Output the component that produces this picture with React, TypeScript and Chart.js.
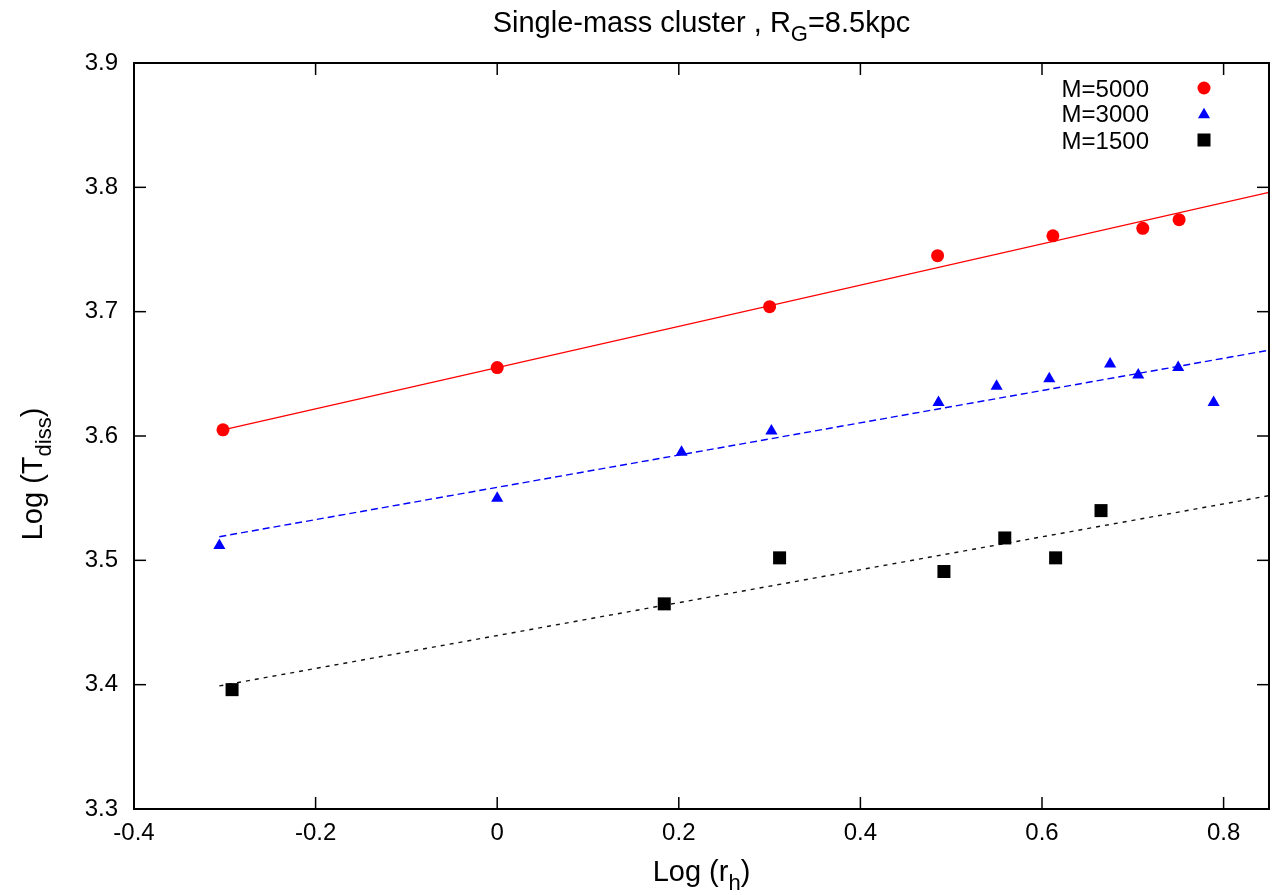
import React, { useEffect, useRef } from "react";
import { Chart, registerables } from "chart.js";

Chart.register(...registerables);

const FONT = '"Liberation Sans", Arial, Helvetica, sans-serif';

// Data
const m5000X = [-0.302, 0.0, 0.3, 0.485, 0.612, 0.711, 0.751];
const m5000Y = [3.605, 3.655, 3.704, 3.745, 3.761, 3.767, 3.774];
const m3000X = [-0.306, 0.0, 0.203, 0.302, 0.486, 0.55, 0.608, 0.675, 0.706, 0.75, 0.789];
const m3000Y = [3.512, 3.55, 3.587, 3.604, 3.627, 3.64, 3.646, 3.658, 3.649, 3.655, 3.627];
const m1500X = [-0.292, 0.184, 0.311, 0.492, 0.559, 0.615, 0.665];
const m1500Y = [3.396, 3.465, 3.502, 3.491, 3.518, 3.502, 3.54];

// Fit lines (endpoints)
const fit5000X = [-0.302, 0.85];
const fit5000Y = [3.605, 3.796];
const fit3000X = [-0.306, 0.85];
const fit3000Y = [3.519, 3.669];
const fit1500X = [-0.306, 0.85];
const fit1500Y = [3.399, 3.552];

const legendLabels = ["M=5000", "M=3000", "M=1500"];
const xTickStep = 0.2;
const yTickStep = 0.1;

const toPts = (xs: number[], ys: number[]) => xs.map((x, i) => ({ x, y: ys[i] }));

type Part = [string, boolean];

function drawParts(ctx: CanvasRenderingContext2D, parts: Part[], cx: number, baseY: number, size: number) {
  const subSize = Math.round(size * 0.75);
  let total = 0;
  const widths: number[] = [];
  for (const [t, sub] of parts) {
    ctx.font = `${sub ? subSize : size}px ${FONT}`;
    const w = ctx.measureText(t).width;
    widths.push(w);
    total += w;
  }
  let x = cx - total / 2;
  ctx.textAlign = "left";
  ctx.textBaseline = "alphabetic";
  parts.forEach(([t, sub], i) => {
    ctx.font = `${sub ? subSize : size}px ${FONT}`;
    ctx.fillText(t, x, sub ? baseY + size * 0.3 : baseY);
    x += widths[i];
  });
}

const decoPlugin = {
  id: "deco",
  afterDraw(chart: any) {
    const { ctx, chartArea: a, scales } = chart;
    ctx.save();
    ctx.strokeStyle = "#000";
    ctx.lineWidth = 1.5;
    const line = (x1: number, y1: number, x2: number, y2: number) => {
      ctx.beginPath();
      ctx.moveTo(x1, y1);
      ctx.lineTo(x2, y2);
      ctx.stroke();
    };
    scales.x.ticks.forEach((t: any) => {
      const px = scales.x.getPixelForValue(t.value);
      line(px, a.bottom, px, a.bottom - 12);
      line(px, a.top, px, a.top + 12);
    });
    scales.y.ticks.forEach((t: any) => {
      const py = scales.y.getPixelForValue(t.value);
      line(a.left, py, a.left + 12, py);
      line(a.right, py, a.right - 12, py);
    });
    ctx.lineWidth = 2;
    ctx.strokeRect(a.left, a.top, a.right - a.left, a.bottom - a.top);

    ctx.fillStyle = "#000";
    const cx = (a.left + a.right) / 2;
    // title
    drawParts(ctx, [["Single-mass cluster , R", false], ["G", true], ["=8.5kpc", false]], cx, 32, 29);
    // x label
    drawParts(ctx, [["Log (r", false], ["h", true], [")", false]], cx, 881, 29);
    // y label
    ctx.save();
    ctx.translate(42, 474);
    ctx.rotate(-Math.PI / 2);
    drawParts(ctx, [["Log (T", false], ["diss", true], [")", false]], 0, 0, 29);
    ctx.restore();

    // legend
    const rows = [88, 113, 140];
    ctx.font = `24px ${FONT}`;
    ctx.textAlign = "right";
    ctx.textBaseline = "alphabetic";
    legendLabels.forEach((lbl, i) => {
      ctx.fillStyle = "#000";
      ctx.fillText(lbl, 1149, rows[i] + 8.5);
    });
    const mx = 1204;
    ctx.fillStyle = "#ff0000";
    ctx.beginPath();
    ctx.arc(mx, rows[0], 6.5, 0, Math.PI * 2);
    ctx.fill();
    ctx.fillStyle = "#0000ff";
    const r = 7;
    const ty = rows[1] + 1.75;
    ctx.beginPath();
    ctx.moveTo(mx, ty - r);
    ctx.lineTo(mx + r * Math.sin((2 * Math.PI) / 3), ty + r / 2);
    ctx.lineTo(mx - r * Math.sin((2 * Math.PI) / 3), ty + r / 2);
    ctx.closePath();
    ctx.fill();
    ctx.fillStyle = "#000";
    ctx.fillRect(mx - 6.5, rows[2] - 6.5, 13, 13);
    ctx.restore();
  },
};

export default function App() {
  const ref = useRef<HTMLCanvasElement>(null);
  useEffect(() => {
    if (!ref.current) return;
    const chart = new Chart(ref.current, {
      type: "scatter",
      data: {
        datasets: [
          {
            label: legendLabels[0],
            data: toPts(m5000X, m5000Y),
            pointStyle: "circle",
            pointRadius: 6.5,
            backgroundColor: "#ff0000",
            borderColor: "#ff0000",
            pointBorderWidth: 0,
          },
          {
            label: legendLabels[1],
            data: toPts(m3000X, m3000Y),
            pointStyle: "triangle",
            pointRadius: 7,
            backgroundColor: "#0000ff",
            borderColor: "#0000ff",
            pointBorderWidth: 0,
          },
          {
            label: legendLabels[2],
            data: toPts(m1500X, m1500Y),
            pointStyle: "rect",
            pointRadius: 9.2,
            backgroundColor: "#000",
            borderColor: "#000",
            pointBorderWidth: 0,
          },
          {
            label: "fit5000",
            data: toPts(fit5000X, fit5000Y),
            showLine: true,
            pointRadius: 0,
            borderColor: "#ff0000",
            borderWidth: 1.3,
          },
          {
            label: "fit3000",
            data: toPts(fit3000X, fit3000Y),
            showLine: true,
            pointRadius: 0,
            borderColor: "#0000ff",
            borderWidth: 1.4,
            borderDash: [7, 4],
          },
          {
            label: "fit1500",
            data: toPts(fit1500X, fit1500Y),
            showLine: true,
            pointRadius: 0,
            borderColor: "#111",
            borderWidth: 1.4,
            borderDash: [4, 5],
          },
        ],
      },
      options: {
        responsive: false,
        animation: false,
        devicePixelRatio: 1,
        layout: { autoPadding: false, padding: { top: 63, right: 3, left: 0, bottom: 0 } },
        plugins: {
          legend: { display: false },
          title: { display: false },
          tooltip: { enabled: false },
        },
        scales: {
          x: {
            type: "linear",
            min: -0.4,
            max: 0.85,
            grid: { display: false, drawTicks: false },
            border: { display: false },
            ticks: {
              stepSize: xTickStep,
              includeBounds: false,
              padding: 10,
              color: "#000",
              font: { family: FONT, size: 24 },
              callback: (v: any) => (Math.abs(v) < 1e-9 ? "0" : Number(v).toFixed(1)),
            },
            afterFit: (s: any) => {
              s.height = 86;
              s.paddingLeft = 0;
              s.paddingRight = 0;
            },
          },
          y: {
            type: "linear",
            min: 3.3,
            max: 3.9,
            grid: { display: false, drawTicks: false },
            border: { display: false },
            ticks: {
              stepSize: yTickStep,
              padding: 16,
              color: "#000",
              font: { family: FONT, size: 24 },
              callback: (v: any) => Number(v).toFixed(1),
            },
            afterFit: (s: any) => {
              s.width = 134;
              s.paddingTop = 0;
              s.paddingBottom = 0;
            },
          },
        },
      },
      plugins: [decoPlugin],
    });
    return () => chart.destroy();
  }, []);
  return (
    <div style={{ position: "fixed", left: 0, top: 0, width: 1272, height: 895, background: "#fff" }}>
      <canvas ref={ref} width={1272} height={895} />
    </div>
  );
}
